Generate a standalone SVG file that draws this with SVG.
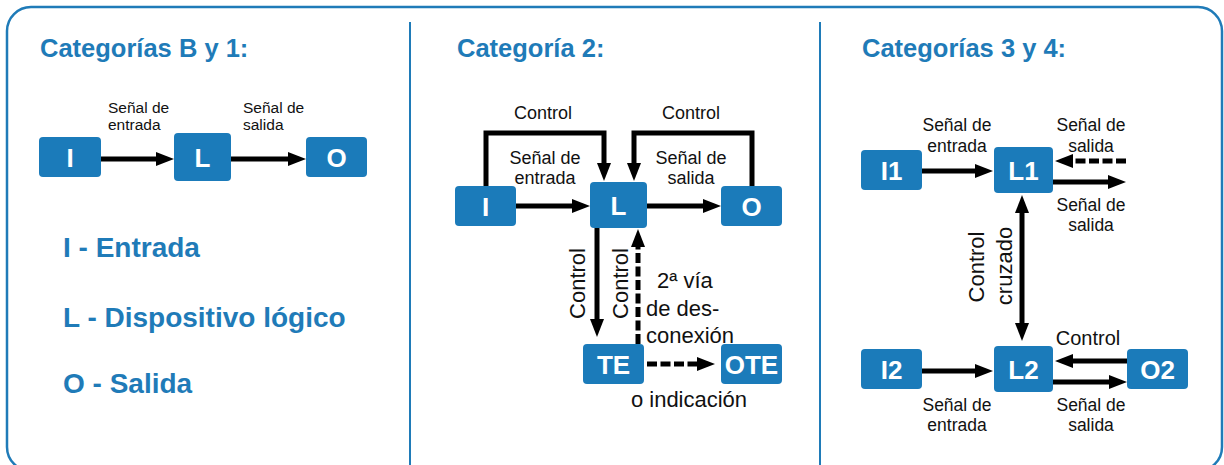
<svg xmlns="http://www.w3.org/2000/svg" width="1224" height="465" viewBox="0 0 1224 465">
<style>
text{font-family:"Liberation Sans",Arial,Helvetica,sans-serif}
.frame{fill:#fff;stroke:#1f7bb8;stroke-width:2.5}
.div{stroke:#1f7bb8;stroke-width:2}
.title{font-size:25.5px;font-weight:bold;fill:#1f7bb8}
.legend{font-size:28px;font-weight:bold;fill:#1f7bb8}
.box{fill:#1b7bba}
.nl{font-size:26px;font-weight:bold;fill:#fff;text-anchor:middle}
.s1{font-size:15.5px;fill:#111}
.s2{font-size:18px;fill:#111;text-anchor:middle}
.s3{font-size:17.5px;fill:#111;text-anchor:middle}
.big{font-size:22px;fill:#111}
.c{text-anchor:middle}
.ln{fill:none;stroke:#000;stroke-width:5;stroke-linejoin:miter}
.dash{stroke-dasharray:10 3.5}
</style>
<defs>
<marker id="ah" markerUnits="userSpaceOnUse" markerWidth="18" markerHeight="14" refX="8" refY="7" orient="auto-start-reverse">
<path d="M0,0 L18,7 L0,14 Z" fill="#000"/>
</marker>
</defs>
<rect class="frame" x="7" y="7" width="1215" height="464" rx="24"/>
<line class="div" x1="410" y1="22" x2="410" y2="465"/>
<line class="div" x1="820" y1="22" x2="820" y2="465"/>

<text class="title" x="40" y="57">Categorías B y 1:</text>
<text class="title" x="457" y="57">Categoría 2:</text>
<text class="title" x="862" y="57">Categorías 3 y 4:</text>

<text class="legend" x="63" y="257">I - Entrada</text>
<text class="legend" x="63" y="327">L - Dispositivo lógico</text>
<text class="legend" x="63" y="393">O - Salida</text>

<g id="connectors" marker-end="url(#ah)">
<line class="ln" x1="101" y1="159" x2="164" y2="159"/>
<line class="ln" x1="231" y1="159" x2="296" y2="159"/>
<line class="ln" x1="516" y1="206" x2="580" y2="206"/>
<line class="ln" x1="647" y1="206" x2="711" y2="206"/>
<polyline class="ln" points="486,186 486,133 604,133 604,171"/>
<polyline class="ln" points="752,186 752,133 634,133 634,171"/>
<line class="ln" x1="597" y1="228" x2="597" y2="327"/>
<line class="ln dash" x1="638" y1="344" x2="638" y2="239"/>
<line class="ln dash" x1="647" y1="364" x2="705" y2="364"/>
<line class="ln" x1="922" y1="171" x2="983" y2="171"/>
<line class="ln dash" x1="1126" y1="161" x2="1065" y2="161"/>
<line class="ln" x1="1053" y1="182" x2="1116" y2="182"/>
<line class="ln" x1="1022" y1="205" x2="1022" y2="331" marker-start="url(#ah)"/>
<line class="ln" x1="922" y1="371" x2="983" y2="371"/>
<line class="ln" x1="1127" y1="361" x2="1065" y2="361"/>
<line class="ln" x1="1053" y1="382" x2="1117" y2="382"/>
</g>

<g id="labels">
<text class="s1" x="108" y="113">Señal de</text>
<text class="s1" x="108" y="130">entrada</text>
<text class="s1" x="243" y="113">Señal de</text>
<text class="s1" x="243" y="130">salida</text>

<text class="s2" x="543" y="119">Control</text>
<text class="s2" x="691" y="119">Control</text>
<text class="s2" x="545" y="164">Señal de</text>
<text class="s2" x="545" y="184">entrada</text>
<text class="s2" x="691" y="164">Señal de</text>
<text class="s2" x="691" y="184">salida</text>
<text class="big c" transform="translate(585,283.5) rotate(-90)">Control</text>
<text class="big c" transform="translate(627.5,283.5) rotate(-90)">Control</text>
<text class="big" x="657" y="288">2ª vía</text>
<text class="big" x="646" y="316">de des-</text>
<text class="big" x="646" y="343">conexión</text>
<text class="big c" x="689" y="407">o indicación</text>

<text class="s3" x="957" y="130.5">Señal de</text>
<text class="s3" x="957" y="151.5">entrada</text>
<text class="s3" x="1091" y="130.5">Señal de</text>
<text class="s3" x="1091" y="151.5">salida</text>
<text class="s3" x="1091" y="211">Señal de</text>
<text class="s3" x="1091" y="231">salida</text>
<text class="big c" transform="translate(984,267) rotate(-90)">Control</text>
<text class="big c" transform="translate(1011.5,266) rotate(-90)">cruzado</text>
<text class="s3" x="1088" y="345" style="font-size:20px">Control</text>
<text class="s3" x="957" y="411">Señal de</text>
<text class="s3" x="957" y="431">entrada</text>
<text class="s3" x="1091" y="411">Señal de</text>
<text class="s3" x="1091" y="431">salida</text>
</g>

<g id="node-I"><rect class="box" x="39" y="137" width="62" height="40" rx="4"/><text class="nl" x="70" y="166.5">I</text></g>
<g id="node-L"><rect class="box" x="174" y="133" width="57" height="48" rx="4"/><text class="nl" x="202.5" y="166.5">L</text></g>
<g id="node-O"><rect class="box" x="306" y="137" width="61" height="40" rx="4"/><text class="nl" x="336.5" y="166.5">O</text></g>

<g id="node-I-c2"><rect class="box" x="455" y="186" width="61" height="40" rx="4"/><text class="nl" x="485.5" y="215.5">I</text></g>
<g id="node-L-c2"><rect class="box" x="590" y="182" width="57" height="46" rx="4"/><text class="nl" x="618.5" y="214.5">L</text></g>
<g id="node-O-c2"><rect class="box" x="721" y="186" width="61" height="40" rx="4"/><text class="nl" x="751.5" y="215.5">O</text></g>
<g id="node-TE"><rect class="box" x="583" y="344" width="61" height="40" rx="4"/><text class="nl" x="613.5" y="373.5">TE</text></g>
<g id="node-OTE"><rect class="box" x="721" y="344" width="61" height="40" rx="4"/><text class="nl" x="751.5" y="373.5">OTE</text></g>

<g id="node-I1"><rect class="box" x="861" y="150" width="61" height="40" rx="4"/><text class="nl" x="891.5" y="179.5">I1</text></g>
<g id="node-L1"><rect class="box" x="994" y="147" width="59" height="46" rx="4"/><text class="nl" x="1023.5" y="179.5">L1</text></g>
<g id="node-I2"><rect class="box" x="861" y="349" width="61" height="40" rx="4"/><text class="nl" x="891.5" y="378.5">I2</text></g>
<g id="node-L2"><rect class="box" x="994" y="346" width="59" height="46" rx="4"/><text class="nl" x="1023.5" y="378.5">L2</text></g>
<g id="node-O2"><rect class="box" x="1127" y="349" width="61" height="40" rx="4"/><text class="nl" x="1157.5" y="378.5">O2</text></g>
</svg>
